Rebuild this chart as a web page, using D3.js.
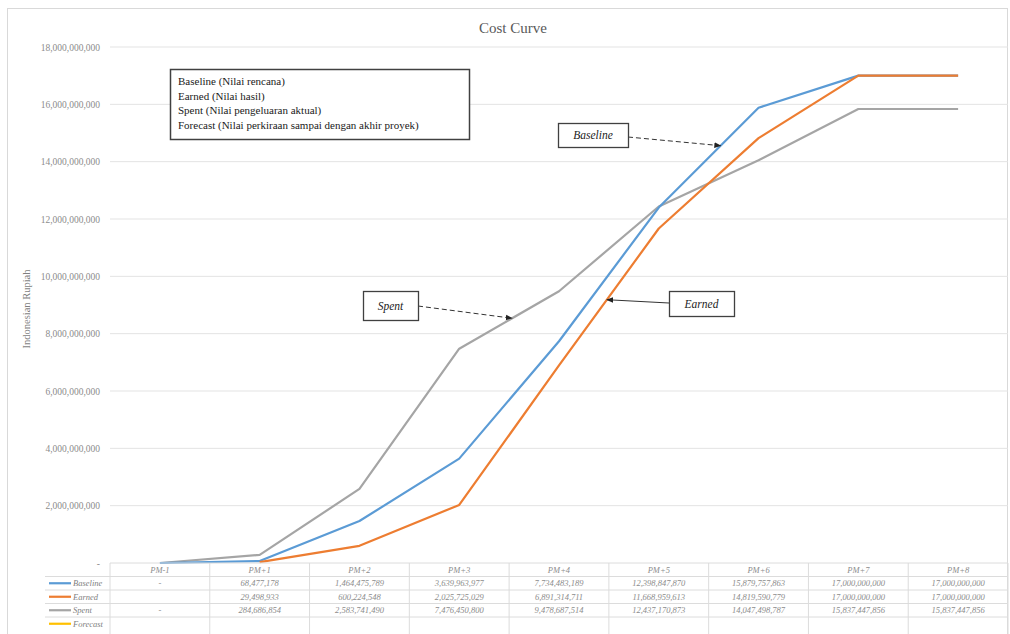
<!DOCTYPE html>
<html>
<head>
<meta charset="utf-8">
<script src="https://cdn.jsdelivr.net/npm/d3@7"></script>
<style>
  html, body { margin: 0; padding: 0; background: #fff; }
  svg { display: block; }
</style>
</head>
<body>
<svg id="chart" width="1010" height="634"></svg>
<script>
// Reporting periods
const categories = ["PM-1", "PM+1", "PM+2", "PM+3", "PM+4", "PM+5", "PM+6", "PM+7", "PM+8"];

// Cumulative cost per period, Indonesian Rupiah
const baseline = [0, 68477178, 1464475789, 3639963977, 7734483189, 12398847870, 15879757863, 17000000000, 17000000000];
const earned   = [null, 29498933, 600224548, 2025725029, 6891314711, 11668959613, 14819590779, 17000000000, 17000000000];
const spent    = [0, 284686854, 2583741490, 7476450800, 9478687514, 12437170873, 14047498787, 15837447856, 15837447856];
const forecast = [null, null, null, null, null, null, null, null, null];

const yTicks = [0, 2e9, 4e9, 6e9, 8e9, 10e9, 12e9, 14e9, 16e9, 18e9];

const legendLines = [
  "Baseline (Nilai rencana)",
  "Earned (Nilai hasil)",
  "Spent (Nilai pengeluaran aktual)",
  "Forecast (Nilai perkiraan sampai dengan akhir proyek)"
];

const series = [
  { name: "Baseline", values: baseline, color: "#5b9bd5" },
  { name: "Earned",   values: earned,   color: "#ed7d31" },
  { name: "Spent",    values: spent,    color: "#a5a5a5" },
  { name: "Forecast", values: forecast, color: "#ffc000" }
];

const W = 1010, H = 634;
const plot = { left: 110, right: 1008, top: 47, bottom: 563 };

const svg = d3.select("#chart");

// chart frame
svg.append("rect")
  .attr("x", 7.5).attr("y", 8.5)
  .attr("width", 1000).attr("height", 640)
  .attr("fill", "#fff").attr("stroke", "#d9d9d9");

const x = d3.scaleBand().domain(categories).range([plot.left, plot.right]);
const cx = c => x(c) + x.bandwidth() / 2;
const y = d3.scaleLinear().domain([0, 18e9]).range([plot.bottom, plot.top]);

// title
svg.append("text")
  .attr("x", 513).attr("y", 33)
  .attr("text-anchor", "middle")
  .attr("font-family", "'Liberation Serif', 'Times New Roman', serif")
  .attr("font-size", 15)
  .attr("fill", "#595959")
  .text("Cost Curve");

// gridlines
svg.append("g")
  .selectAll("line")
  .data(yTicks.filter(d => d > 0))
  .join("line")
  .attr("x1", plot.left).attr("x2", plot.right)
  .attr("y1", d => y(d)).attr("y2", d => y(d))
  .attr("stroke", "#e3e3e3").attr("stroke-width", 1);

// y axis
const yAxis = d3.axisLeft(y)
  .tickValues(yTicks)
  .tickSize(0)
  .tickPadding(10)
  .tickFormat(d => d === 0 ? "-" : d3.format(",")(d));
const yg = svg.append("g")
  .attr("transform", `translate(${plot.left},0)`)
  .call(yAxis);
yg.select(".domain").remove();
yg.selectAll("text")
  .attr("font-family", "'Liberation Serif', 'Times New Roman', serif")
  .attr("font-size", 9.5)
  .attr("fill", "#8c8c8c");

// y axis title
svg.append("text")
  .attr("transform", `translate(30,${(plot.top + plot.bottom) / 2 + 4}) rotate(-90)`)
  .attr("text-anchor", "middle")
  .attr("font-family", "'Liberation Serif', 'Times New Roman', serif")
  .attr("font-size", 10.5)
  .attr("fill", "#7f7f7f")
  .text("Indonesian Rupiah");

// series lines
const line = d3.line()
  .defined(d => d.v !== null)
  .x(d => cx(d.c))
  .y(d => y(d.v));

const drawOrder = [series[2], series[0], series[1]];
svg.append("g")
  .selectAll("path")
  .data(drawOrder)
  .join("path")
  .attr("d", s => line(categories.map((c, i) => ({ c, v: s.values[i] }))))
  .attr("fill", "none")
  .attr("stroke", s => s.color)
  .attr("stroke-width", 2.2)
  .attr("stroke-linejoin", "round");

// data table beneath the plot
const rowH = 13.5;
const tableTop = plot.bottom;
const keyLeft = 45;
const tg = svg.append("g");
const gridColor = "#dcdcdc";

tg.append("line")
  .attr("x1", plot.left).attr("x2", plot.right)
  .attr("y1", tableTop).attr("y2", tableTop)
  .attr("stroke", gridColor);
for (let r = 1; r <= series.length; r++) {
  tg.append("line")
    .attr("x1", keyLeft).attr("x2", plot.right)
    .attr("y1", tableTop + r * rowH).attr("y2", tableTop + r * rowH)
    .attr("stroke", gridColor);
}
const colEdges = categories.map(c => x(c)).concat([plot.right]);
tg.selectAll("line.col")
  .data(colEdges)
  .join("line")
  .attr("class", "col")
  .attr("x1", d => d).attr("x2", d => d)
  .attr("y1", tableTop).attr("y2", H)
  .attr("stroke", gridColor);

const tableFont = "'Liberation Serif', 'Times New Roman', serif";

// header row
tg.selectAll("text.head")
  .data(categories)
  .join("text")
  .attr("class", "head")
  .attr("x", c => cx(c))
  .attr("y", tableTop + rowH / 2 + 3)
  .attr("text-anchor", "middle")
  .attr("font-family", tableFont)
  .attr("font-style", "italic")
  .attr("font-size", 8.5)
  .attr("fill", "#8c8c8c")
  .text(c => c);

const cellText = v => v === null ? "" : (v === 0 ? "-" : d3.format(",")(v));

series.forEach((s, r) => {
  const rowMid = tableTop + (r + 1) * rowH + rowH / 2;
  // legend key
  tg.append("line")
    .attr("x1", 49).attr("x2", 71)
    .attr("y1", rowMid).attr("y2", rowMid)
    .attr("stroke", s.color).attr("stroke-width", 2.2);
  tg.append("text")
    .attr("x", 73).attr("y", rowMid + 3)
    .attr("font-family", tableFont)
    .attr("font-style", "italic")
    .attr("font-size", 8.5)
    .attr("fill", "#7f7f7f")
    .text(s.name);
  // values
  tg.selectAll(null)
    .data(categories.map((c, i) => ({ c, v: s.values[i] })))
    .join("text")
    .attr("x", d => cx(d.c))
    .attr("y", rowMid + 3)
    .attr("text-anchor", "middle")
    .attr("font-family", tableFont)
    .attr("font-style", "italic")
    .attr("font-size", 8.5)
    .attr("fill", "#8c8c8c")
    .text(d => cellText(d.v));
});

// description box
const lg = svg.append("g");
lg.append("rect")
  .attr("x", 170.5).attr("y", 69.5)
  .attr("width", 299).attr("height", 70)
  .attr("fill", "#fff")
  .attr("stroke", "#404040").attr("stroke-width", 1.5);
lg.selectAll("text")
  .data(legendLines)
  .join("text")
  .attr("x", 178)
  .attr("y", (d, i) => 85 + i * 14.5)
  .attr("font-family", "'Liberation Serif', 'Times New Roman', serif")
  .attr("font-size", 11)
  .attr("fill", "#1a1a1a")
  .text(d => d);

// call-out labels with arrows
const defs = svg.append("defs");
defs.append("marker")
  .attr("id", "arrow")
  .attr("viewBox", "0 0 10 10")
  .attr("refX", 9).attr("refY", 5)
  .attr("markerWidth", 7).attr("markerHeight", 7)
  .attr("orient", "auto-start-reverse")
  .append("path")
  .attr("d", "M0,1 L10,5 L0,9 Z")
  .attr("fill", "#222");

// point on a series between two periods, at fraction t
function along(values, i, t) {
  const x0 = cx(categories[i]), x1 = cx(categories[i + 1]);
  const v = values[i] + (values[i + 1] - values[i]) * t;
  return [x0 + (x1 - x0) * t, y(v)];
}

const callouts = [
  { text: "Baseline", box: [558, 123, 70, 24], from: [628, 137], to: along(baseline, 5, 0.62), dash: "5,3" },
  { text: "Spent",    box: [363, 291, 55, 29], from: [418, 306], to: along(spent, 3, 0.53),    dash: "5,3" },
  { text: "Earned",   box: [669, 291, 65, 25], from: [669, 303], to: along(earned, 4, 0.48),   dash: null }
];

const cg = svg.append("g");
callouts.forEach(c => {
  cg.append("line")
    .attr("x1", c.from[0]).attr("y1", c.from[1])
    .attr("x2", c.to[0]).attr("y2", c.to[1])
    .attr("stroke", "#333").attr("stroke-width", 1)
    .attr("stroke-dasharray", c.dash)
    .attr("marker-end", "url(#arrow)");
  cg.append("rect")
    .attr("x", c.box[0] + 0.5).attr("y", c.box[1] + 0.5)
    .attr("width", c.box[2]).attr("height", c.box[3])
    .attr("fill", "#fff")
    .attr("stroke", "#404040").attr("stroke-width", 1.3);
  cg.append("text")
    .attr("x", c.box[0] + c.box[2] / 2)
    .attr("y", c.box[1] + c.box[3] / 2 + 4)
    .attr("text-anchor", "middle")
    .attr("font-family", "'Liberation Serif', 'Times New Roman', serif")
    .attr("font-style", "italic")
    .attr("font-size", 11.5)
    .attr("fill", "#222")
    .text(c.text);
});
</script>
</body>
</html>
